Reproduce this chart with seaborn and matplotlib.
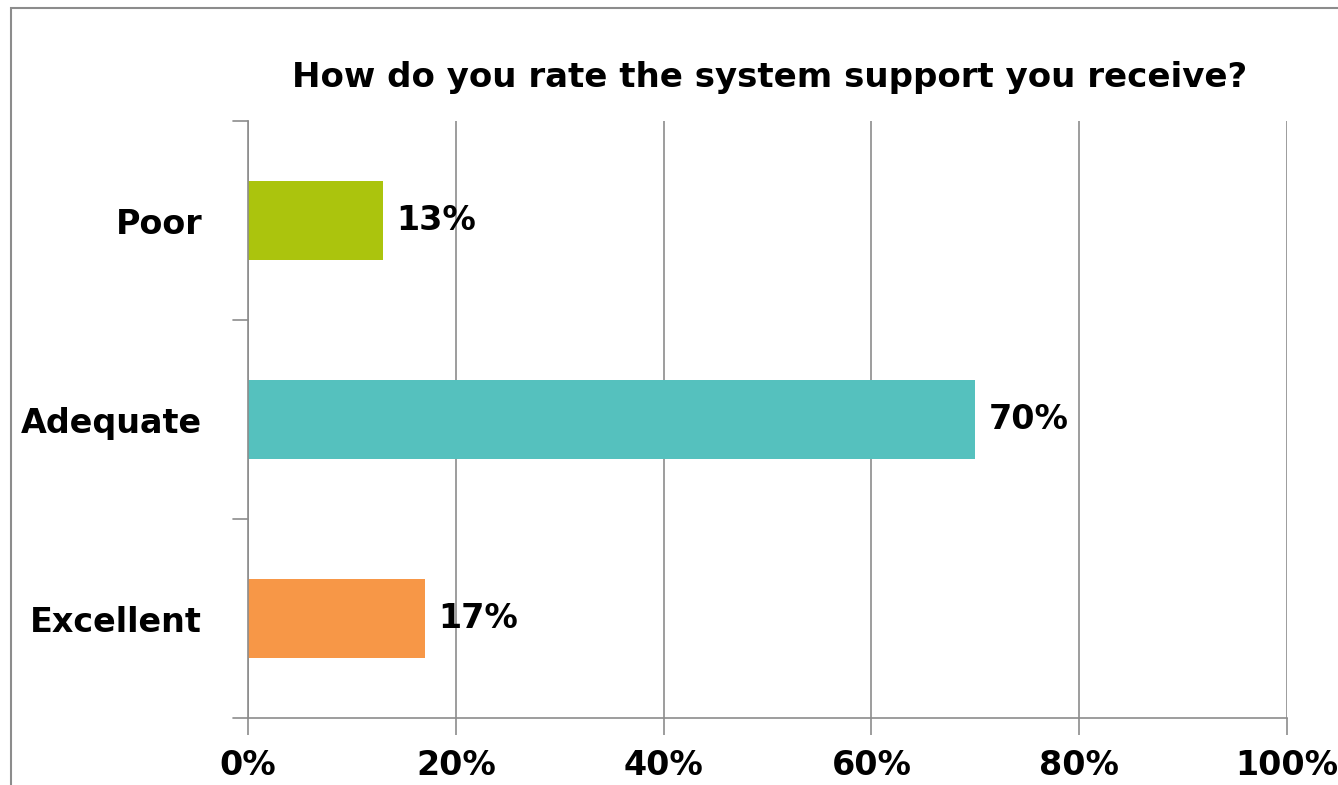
import matplotlib
matplotlib.use("Agg")
import matplotlib.pyplot as plt
import matplotlib.patches as mpatches
import seaborn as sns
import pandas as pd

ratings = ["Poor", "Adequate", "Excellent"]
shares = [13, 70, 17]
bar_colors = ["#ABC40D", "#55C1BE", "#F79747"]
title = "How do you rate the system support you receive?"
x_ticks = [0, 20, 40, 60, 80, 100]

sns.set_theme(style="white")
plt.rcParams["font.family"] = ["DejaVu Sans"]
plt.rcParams["font.weight"] = "bold"
plt.rcParams["text.color"] = "black"
plt.rcParams["xtick.color"] = "black"
plt.rcParams["ytick.color"] = "black"

df = pd.DataFrame({"rating": ratings, "share": shares})

fig = plt.figure(figsize=(13.38, 7.85), dpi=100)
ax = fig.add_axes([248 / 1338, 1 - 718 / 785, (1287 - 248) / 1338, (718 - 121) / 785])

sns.barplot(data=df, x="share", y="rating", hue="rating", order=ratings,
            hue_order=ratings, palette=bar_colors, width=0.4, legend=False,
            orient="h", ax=ax, saturation=1, edgecolor="none")

ax.set_xlim(0, 100)
ax.set_ylim(2.5, -0.5)
ax.set_xticks(x_ticks)
ax.set_xticklabels([f"{v}%" for v in x_ticks], fontsize=24, fontweight="bold", color="black")
ax.set_yticks(range(len(ratings)))
ax.set_yticklabels(ratings, fontsize=24, fontweight="bold", color="black")
ax.set_xlabel("")
ax.set_ylabel("")

# gridlines and boundary ticks in gray
ax.grid(axis="x", color="#8C8C8C", linewidth=1.2)
ax.set_axisbelow(True)
for side in ["top", "right"]:
    ax.spines[side].set_visible(False)
for side in ["left", "bottom"]:
    ax.spines[side].set_color("#8C8C8C")
    ax.spines[side].set_linewidth(1.2)

ax.tick_params(axis="x", length=12, width=1.2, color="#8C8C8C", pad=10, direction="out", bottom=True,
               labelcolor="black")
ax.tick_params(axis="y", length=0, pad=33, labelcolor="black")
for yb in [-0.5, 0.5, 1.5, 2.5]:
    ax.plot([-1.4, 0], [yb, yb], color="#8C8C8C", linewidth=1.2, clip_on=False,
            transform=ax.transData)

for i, v in enumerate(shares):
    ax.text(v + 1.3, i, f"{v}%", va="center", ha="left", fontsize=24, fontweight="bold", color="black")

fig.text((287 + 1253) / 2 / 1338, 1 - 78 / 785, title, ha="center", va="center",
         fontsize=24.5, fontweight="bold", color="black")

fig.patches.append(mpatches.Rectangle((11 / 1338, -0.05), 1.1, 1 - 8 / 785 + 0.05,
                                      transform=fig.transFigure, fill=False,
                                      edgecolor="#8C8C8C", linewidth=1.5))

fig.savefig("out.png", dpi=100)
